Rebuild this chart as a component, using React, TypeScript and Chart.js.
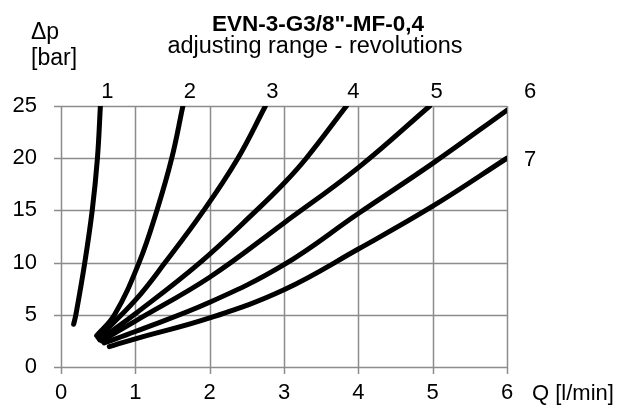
import React, { useEffect, useRef } from "react";
import { Chart, registerables } from "chart.js";

Chart.register(...registerables);

const titleText = 'EVN-3-G3/8"-MF-0,4';
const subtitleText = "adjusting range - revolutions";
const yUnitLines = ["\u0394p", "[bar]"];
const xUnit = "Q [l/min]";

const xMin = 0;
const xMax = 6;
const xStep = 1;
const yMin = 0;
const yMax = 25;
const yStep = 5;

const curveLabels = ["1", "2", "3", "4", "5", "6", "7"];

const q1 = [0.17, 0.2, 0.32, 0.42, 0.49, 0.53];
const p1 = [4.1, 5.0, 10, 15, 20, 25];
const q2 = [0.48, 0.72, 1.05, 1.29, 1.49, 1.64];
const p2 = [3.0, 5.0, 10, 15, 20, 25];
const q3 = [0.5, 1.0, 1.4, 1.92, 2.38, 2.75];
const p3 = [2.8, 6.4, 10, 15, 20, 25];
const q4 = [0.52, 1.0, 1.87, 2.63, 3.0, 3.3, 3.84];
const p4 = [2.6, 5.1, 10, 15, 17.6, 20, 25];
const q5 = [0.55, 1.0, 2.0, 3.0, 4.0, 4.96];
const p5 = [2.5, 4.4, 8.6, 13.8, 19.1, 25];
const q6 = [0.58, 1.0, 2.0, 3.0, 4.0, 5.0, 6.0];
const p6 = [2.3, 3.4, 6.2, 9.8, 14.7, 19.5, 24.6];
const q7 = [0.65, 1.0, 2.0, 3.0, 4.0, 5.0, 6.0];
const p7 = [1.95, 2.7, 4.7, 7.4, 11.3, 15.4, 20.0];

const seriesQ = [q1, q2, q3, q4, q5, q6, q7];
const seriesP = [p1, p2, p3, p4, p5, p6, p7];

const FONT = '"Liberation Sans", Arial, sans-serif';
const GRID = "#8c8c8c";

export default function App() {
  const ref = useRef<HTMLCanvasElement>(null);

  useEffect(() => {
    if (!ref.current) return;

    const gridPlugin = {
      id: "gridPlugin",
      beforeDatasetsDraw(chart: any) {
        const ctx = chart.ctx;
        const xs = chart.scales.x;
        const ys = chart.scales.y;
        const a = chart.chartArea;
        ctx.save();
        ctx.strokeStyle = GRID;
        ctx.lineWidth = 1.5;
        ctx.beginPath();
        xs.ticks.forEach((t: any) => {
          const px = Math.round(xs.getPixelForValue(t.value)) + 0.5;
          ctx.moveTo(px, a.top);
          ctx.lineTo(px, a.bottom + 7);
        });
        ys.ticks.forEach((t: any) => {
          const py = Math.round(ys.getPixelForValue(t.value)) + 0.5;
          ctx.moveTo(a.left - 7, py);
          ctx.lineTo(a.right, py);
        });
        ctx.stroke();
        ctx.restore();
      },
    };

    const labelsPlugin = {
      id: "labelsPlugin",
      afterDraw(chart: any) {
        const ctx = chart.ctx;
        const xs = chart.scales.x;
        const ys = chart.scales.y;
        const area = chart.chartArea;
        ctx.save();
        ctx.fillStyle = "#000";
        ctx.textBaseline = "alphabetic";
        ctx.textAlign = "center";
        ctx.font = `bold 22.5px ${FONT}`;
        ctx.fillText(titleText, 318, 31);
        ctx.font = `23.5px ${FONT}`;
        ctx.fillText(subtitleText, 315, 53);
        ctx.textAlign = "left";
        ctx.font = `23px ${FONT}`;
        ctx.fillText(yUnitLines[0], 31, 39);
        ctx.fillText(yUnitLines[1], 31, 65);
        ctx.font = `22px ${FONT}`;
        ctx.fillText(xUnit, 532, 400);
        ctx.textAlign = "center";
        seriesQ.forEach((qs, i) => {
          const lx = qs[qs.length - 1];
          const ly = seriesP[i][seriesP[i].length - 1];
          const px = xs.getPixelForValue(lx);
          const py = ys.getPixelForValue(ly);
          const atRight = lx >= xs.max - 0.01;
          const atTop = ly >= ys.max - 0.5;
          const tx = atRight ? px + 23 : px + 7;
          const ty = atTop ? area.top - 8 : py + 8;
          ctx.fillText(curveLabels[i], tx, ty);
        });
        ctx.restore();
      },
    };

    const chart = new Chart(ref.current, {
      type: "scatter",
      data: {
        datasets: seriesQ.map((qs, i) => ({
          label: curveLabels[i],
          data: qs.map((q, j) => ({ x: q, y: seriesP[i][j] })),
          showLine: true,
          borderColor: "#000",
          backgroundColor: "#000",
          borderWidth: 5,
          borderCapStyle: "round",
          borderJoinStyle: "round",
          pointRadius: 0,
          tension: 0.4,
        })),
      },
      options: {
        responsive: false,
        animation: false,
        events: [],
        layout: { padding: { top: 106, right: 120, left: 0, bottom: 0 } },
        plugins: {
          legend: { display: false },
          title: { display: false },
          tooltip: { enabled: false },
        },
        scales: {
          x: {
            type: "linear",
            min: xMin,
            max: xMax,
            afterFit: (s: any) => {
              s.height = 40;
            },
            ticks: {
              stepSize: xStep,
              color: "#000",
              font: { family: FONT, size: 22 },
              padding: 6,
              maxRotation: 0,
            },
            grid: { display: false, tickLength: 7 },
            border: { display: false },
          },
          y: {
            type: "linear",
            min: yMin,
            max: yMax,
            afterFit: (s: any) => {
              s.width = 61;
            },
            ticks: {
              stepSize: yStep,
              color: "#000",
              font: { family: FONT, size: 22 },
              padding: 17,
            },
            grid: { display: false, tickLength: 7 },
            border: { display: false },
          },
        },
      },
      plugins: [gridPlugin, labelsPlugin],
    } as any);
    return () => chart.destroy();
  }, []);

  return (
    <div style={{ position: "fixed", left: 0, top: 0, width: 627, height: 407, background: "#fff" }}>
      <canvas ref={ref} width={627} height={407} style={{ width: 627, height: 407, display: "block" }} />
    </div>
  );
}
